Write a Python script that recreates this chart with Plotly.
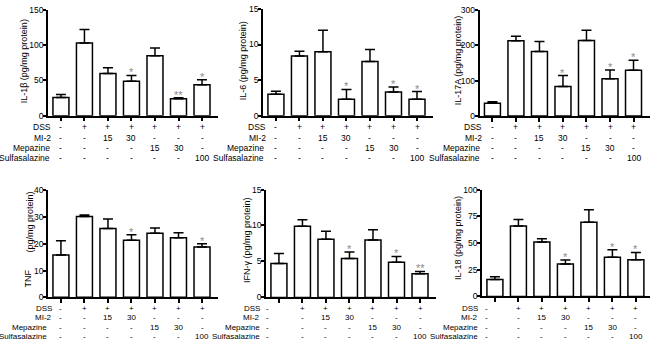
import plotly.graph_objects as go

# ---------------- data ----------------
groups = [0, 1, 2, 3, 4, 5, 6]

il1b_mean = [26, 103, 60, 49, 85, 24, 44]
il1b_err = [4, 19, 8, 8, 11, 1.4, 7]
il1b_sig = ["", "", "", "*", "", "**", "*"]

il6_mean = [3.0, 8.4, 9.0, 2.3, 7.6, 3.35, 2.3]
il6_err = [0.45, 0.65, 3.0, 1.4, 1.7, 0.7, 1.1]
il6_sig = ["", "", "", "*", "", "*", "*"]

il17_mean = [36, 212, 182, 83, 213, 105, 129]
il17_err = [4, 13, 28, 31, 29, 25, 28]
il17_sig = ["", "", "", "*", "", "*", "*"]

tnf_mean = [15.8, 30.1, 25.7, 21.3, 23.9, 22.2, 18.8]
tnf_err = [5.3, 0.6, 3.5, 2.0, 2.0, 1.9, 1.2]
tnf_sig = ["", "", "", "*", "", "", "*"]

ifng_mean = [4.7, 9.9, 8.1, 5.4, 8.0, 4.9, 3.3]
ifng_err = [1.4, 0.9, 1.1, 0.9, 1.4, 0.8, 0.3]
ifng_sig = ["", "", "", "*", "", "*", "**"]

il18_mean = [15.8, 66, 51, 30.3, 69.4, 36.7, 34.2]
il18_err = [2.7, 6, 3, 3.7, 11.6, 6.9, 7]
il18_sig = ["", "", "", "*", "", "*", "*"]

row_labels = ["DSS", "MI-2", "Mepazine", "Sulfasalazine"]
dss_row = ["-", "+", "+", "+", "+", "+", "+"]
mi2_row = ["-", "-", "15", "30", "-", "-", "-"]
mep_row = ["-", "-", "-", "-", "15", "30", "-"]
sulfa_row = ["-", "-", "-", "-", "-", "-", "100"]
table_rows = [dss_row, mi2_row, mep_row, sulfa_row]

y_ticks_1 = [0, 50, 100, 150]
y_ticks_2 = [0, 5, 10, 15]
y_ticks_3 = [0, 100, 200, 300]
y_ticks_4 = [0, 10, 20, 30, 40]
y_ticks_5 = [0, 5, 10, 15]
y_ticks_6 = [0, 25, 50, 75, 100]

titles = ["IL-1β (pg/mg protein)", "IL-6 (pg/mg protein)", "IL-17A (pg/mg protein)",
          None, "IFN-γ (pg/mg protein)", "IL-18 (pg/mg protein)"]

# ---------------- layout helpers ----------------
W, H = 650, 349
FONT = "Liberation Sans, Arial, sans-serif"
GREY = "#8a8a8a"

def px(x):
    return x / W

def py(y):
    return 1 - y / H

panels = [
    dict(mean=il1b_mean, err=il1b_err, sig=il1b_sig, ticks=y_ticks_1,
         xdom=(48, 218), ytop=5, ybot=114, xr=(-0.55, 6.68),
         title=titles[0], tx=24, ty=58, tfs=8.5,
         rows_y=[126, 136.5, 147, 157.5], lab_x=[53, 53, 52, 52], col1_shift=0),
    dict(mean=il6_mean, err=il6_err, sig=il6_sig, ticks=y_ticks_2,
         xdom=(263, 433), ytop=4, ybot=114, xr=(-0.55, 6.68),
         title=titles[1], tx=243, ty=58, tfs=8.5,
         rows_y=[126, 136.5, 147, 157.5], lab_x=[268, 268, 266, 266], col1_shift=0),
    dict(mean=il17_mean, err=il17_err, sig=il17_sig, ticks=y_ticks_3,
         xdom=(479.5, 649.5), ytop=4.7, ybot=114.3, xr=(-0.55, 6.68),
         title=titles[2], tx=458, ty=57, tfs=8.5,
         rows_y=[126, 136.5, 147, 157.5], lab_x=[484, 484, 482, 482], col1_shift=0),
    dict(mean=tnf_mean, err=tnf_err, sig=tnf_sig, ticks=y_ticks_4,
         xdom=(48, 218), ytop=190.5, ybot=301, xr=(-0.55, 6.68),
         title=None, tx=30, ty=240, tfs=8,
         rows_y=[312, 321.5, 331.5, 341], lab_x=[54, 54, 49, 49], col1_shift=0),
    dict(mean=ifng_mean, err=ifng_err, sig=ifng_sig, ticks=y_ticks_5,
         xdom=(266, 436), ytop=190, ybot=301, xr=(-0.55, 6.68),
         title=titles[4], tx=247, ty=242, tfs=8,
         rows_y=[312, 321.5, 331.5, 341], lab_x=[262, 262, 262, 262], col1_shift=-11),
    dict(mean=il18_mean, err=il18_err, sig=il18_sig, ticks=y_ticks_6,
         xdom=(482, 650), ytop=190, ybot=300, xr=(-0.55, 6.6),
         title=titles[5], tx=458, ty=240, tfs=8,
         rows_y=[312, 321.5, 331.5, 341], lab_x=[480, 480, 480, 480], col1_shift=-8),
]

fig = go.Figure()
annotations = []
layout = dict(
    width=W, height=H, margin=dict(l=0, r=0, t=0, b=0),
    paper_bgcolor="white", plot_bgcolor="white", showlegend=False,
    font=dict(family=FONT, size=9, color="black"),
)

for i, p in enumerate(panels, start=1):
    xa = "x" if i == 1 else f"x{i}"
    ya = "y" if i == 1 else f"y{i}"
    n = len(groups)
    fig.add_trace(go.Bar(
        x=groups, y=p["mean"], width=0.68, xaxis=xa, yaxis=ya,
        marker=dict(color="white", line=dict(color="black", width=1.5)),
        error_y=dict(type="data", symmetric=False, array=p["err"],
                     arrayminus=[0] * n, color="black", thickness=1.5, width=5),
        hoverinfo="skip",
    ))
    ymax = p["ticks"][-1]
    layout["xaxis" if i == 1 else f"xaxis{i}"] = dict(
        domain=[px(p["xdom"][0]), px(p["xdom"][1])], anchor=ya,
        range=list(p["xr"]), tickvals=groups, ticktext=[""] * n,
        ticks="outside", ticklen=4, tickwidth=1.5, tickcolor="black",
        showline=True, linewidth=1.5, linecolor="black",
        showgrid=False, zeroline=False, fixedrange=True,
    )
    layout["yaxis" if i == 1 else f"yaxis{i}"] = dict(
        domain=[py(p["ybot"]), py(p["ytop"])], anchor=xa,
        range=[0, ymax], tickvals=p["ticks"],
        ticks="outside", ticklen=3, tickwidth=1.5, tickcolor="black",
        ticklabelstandoff=-2,
        tickfont=dict(size=8.5, family=FONT, color="black"),
        showline=True, linewidth=1.5, linecolor="black",
        showgrid=False, zeroline=False, fixedrange=True,
    )
    # significance marks
    for g, m, e, s in zip(groups, p["mean"], p["err"], p["sig"]):
        if s:
            annotations.append(dict(
                x=g, y=m + e, xref=xa, yref=ya, text=s, showarrow=False,
                xanchor="center", yanchor="middle", yshift=3,
                font=dict(size=11, color=GREY, family=FONT),
            ))
    # y title
    if p["title"] is not None:
        annotations.append(dict(
            x=px(p["tx"]), y=py(p["ty"]), xref="paper", yref="paper",
            text=p["title"], textangle=-90, showarrow=False,
            xanchor="center", yanchor="middle",
            font=dict(size=9, family=FONT, color="black"),
        ))
    else:
        annotations.append(dict(
            x=px(28), y=py(281.5), xref="paper", yref="paper", text="TNF",
            textangle=-90, showarrow=False, xanchor="center", yanchor="middle",
            font=dict(size=9, family=FONT, color="black"),
        ))
        annotations.append(dict(
            x=px(30), y=py(224), xref="paper", yref="paper", text="(pg/mg protein)",
            textangle=-90, showarrow=False, xanchor="center", yanchor="middle",
            font=dict(size=9, family=FONT, color="black"),
        ))
    # treatment table
    for r, (lab, row) in enumerate(zip(row_labels, table_rows)):
        yy = py(p["rows_y"][r])
        annotations.append(dict(
            x=px(p["lab_x"][r]), y=yy, xref="paper", yref="paper", text=lab,
            showarrow=False, xanchor="right", yanchor="middle",
            font=dict(size=p["tfs"], family=FONT, color="black"),
        ))
        for g, v in zip(groups, row):
            annotations.append(dict(
                x=g, y=yy, xref=xa, yref="paper", text=v, showarrow=False,
                xanchor="center", yanchor="middle",
                xshift=p["col1_shift"] if g == groups[0] else 0,
                font=dict(size=p["tfs"], family=FONT, color="black"),
            ))

layout["annotations"] = annotations
fig.update_layout(**layout)
fig.write_html(
    "out.html",
    config=dict(displayModeBar=False),
    post_script="document.body.style.margin='0';document.body.style.padding='0';"
                "document.body.style.overflow='hidden';",
)
